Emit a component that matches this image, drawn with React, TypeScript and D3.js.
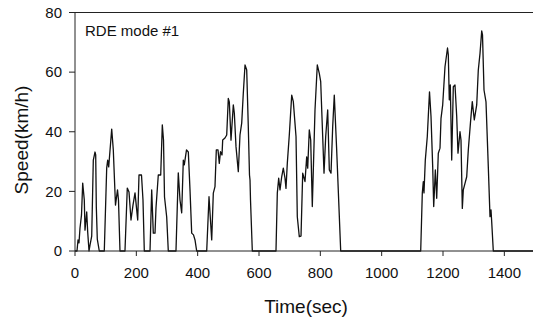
import React from "react";
import * as d3 from "d3";

// [time (s), speed (km/h)], grouped by driving trip
const trip1: [number, number][] = [
  [0, 0], [6.5, 0], [9.8, 3.7], [13, 2.7], [16.3, 7.7], [21.2, 12.1], [25.1, 22.8], [30.3, 17.1],
  [32.6, 7], [38.2, 13.1], [41.4, 6.4], [45.7, 0], [48.9, 2], [54.5, 5], [59.7, 30.5], [65.2, 33.2],
  [67.5, 32.2], [69.5, 14.8], [72.7, 4], [79.2, 0], [95.5, 0], [103.4, 27.9], [106.6, 30.5],
  [109.9, 28.2], [119.7, 40.9], [124.9, 33.9], [132, 15.4], [138.6, 20.5], [141.8, 17.1], [146.7, 0],
  [163, 0], [170.5, 21.1], [176.1, 19.8], [182.6, 10.4], [189.1, 15.4], [195.7, 19.5], [201.2, 13.8],
  [204.5, 10.4], [208.7, 25.5], [216.8, 25.5], [221.7, 17.1], [226, 0], [244.6, 0], [250.1, 20.5],
  [255.3, 6], [260.9, 6], [264.1, 14.4], [271.6, 25.5], [279.5, 25.5], [284.7, 42.3], [288.6, 37.2],
  [291.9, 18.1], [299, 11.4], [304.2, 0], [329.3, 0], [336.8, 26.2], [342.4, 17.1], [347.9, 12.8],
  [353.2, 30.5], [356.4, 28.9], [363.6, 33.9], [369.5, 33.2], [375, 20.5], [380.5, 6], [386.4, 5.4],
  [391.3, 3.7], [396.8, 0],
];
const trip2: [number, number][] = [
  [429.5, 0], [437, 18.2], [445.8, 3.7], [451, 19.4], [456.5, 21.6], [460.8, 33.9], [466.3, 33.9],
  [470.5, 29.4], [474.5, 33.3], [479.4, 32.2], [481.6, 37.2], [489.1, 37.9], [494.7, 38.9],
  [499.9, 51.2], [503.2, 50], [508.7, 37.2], [516.2, 49], [519.5, 46.3], [525, 35], [532.5, 26.6],
  [538, 38.9], [543.6, 42.9], [548.8, 52.9], [554.4, 62.4], [559.9, 60.7], [565.1, 41.7], [569, 25.5],
  [570.7, 23.8], [572.3, 17.1], [578.2, 0],
];
const trip3: [number, number][] = [
  [655.4, 0], [659.7, 19.4], [664.2, 24.4], [668.5, 20.5], [674, 24.9], [679.3, 27.8], [684.8, 24.4],
  [688, 21], [692.3, 29.4], [698.8, 38.9], [706.7, 52.3], [711.9, 50.1], [720.7, 38.4], [724.9, 11.5],
  [731.4, 4.8], [737, 5], [742.5, 26.1], [750, 23.3], [755.5, 31.6], [758.8, 27.8], [764, 40.6],
  [768.6, 37.2], [773.8, 14.9], [782.6, 47.3], [790.1, 62.4], [796.6, 59.6], [801.2, 56.8],
  [807.7, 38.4], [812, 26.1], [817.5, 38.4], [824, 47.3], [829.3, 27.2], [834.8, 26.1], [840.3, 41.7],
  [845.5, 52.3], [853.3, 33.9], [866.4, 0],
];
const trip4: [number, number][] = [
  [1127.3, 0], [1132.5, 19.4], [1135.8, 23.3], [1138, 19.5], [1142.3, 30.5], [1148.8, 38.4],
  [1156, 53.4], [1160.9, 45.1], [1166.4, 28.3], [1169.7, 14.9], [1175, 27.2], [1179.5, 17.7],
  [1184.7, 32.8], [1190.2, 34.5], [1193.5, 44.5], [1199, 49], [1206.5, 61.8], [1214.7, 68.1],
  [1217.3, 65.8], [1220.5, 50.7], [1223.8, 55.7], [1228.4, 30.5], [1233.6, 55.1], [1239.1, 55.7],
  [1244.7, 45.1], [1248.9, 32.8], [1255.4, 40], [1258.7, 37.2], [1263, 14.3], [1266.2, 20.5],
  [1271.7, 22.7], [1277.3, 24.9], [1282.5, 33.9], [1290.3, 44], [1295.5, 50.1], [1302.1, 44],
  [1309.9, 49], [1315.1, 60.7], [1320.7, 66.3], [1326.2, 73.8], [1328.8, 72.5], [1333.7, 54],
  [1340.2, 50], [1347.7, 28.3], [1353.3, 11.5], [1356.5, 13.8], [1358.8, 9.8], [1364, 0], [1500, 0],
];

const xTicks = [0, 200, 400, 600, 800, 1000, 1200, 1400];
const yTicks = [0, 20, 40, 60, 80];
const xLabel = "Time(sec)";
const yLabel = "Speed(km/h)";
const panelLabel = "RDE mode #1";

const W = 533;
const H = 320;
const FONT = "'Liberation Sans', Arial, sans-serif";

export default function App() {
  const x = d3.scaleLinear().domain([0, 1500]).range([75, 535]);
  const y = d3.scaleLinear().domain([0, 80]).range([251, 12.5]);
  const data = [...trip1, ...trip2, ...trip3, ...trip4];
  const line = d3
    .line<[number, number]>()
    .x((d) => x(d[0]))
    .y((d) => y(d[1]));

  const x0 = x(0);
  const yb = y(0);
  const yt = y(80);

  return (
    <svg
      width={W}
      height={H}
      style={{ position: "absolute", left: 0, top: 0, background: "#fff" }}
      fontFamily={FONT}
    >
      <rect x={0} y={0} width={W} height={H} fill="#fff" />
      <path d={line(data) ?? ""} fill="none" stroke="#111" strokeWidth={1.3} strokeLinejoin="round" />
      {/* axes frame */}
      <line x1={x0} x2={W} y1={yb} y2={yb} stroke="#222" strokeWidth={1} />
      <line x1={x0} x2={W} y1={yt} y2={yt} stroke="#222" strokeWidth={1} />
      <line x1={x0} x2={x0} y1={yt} y2={yb} stroke="#222" strokeWidth={1} />
      {yTicks.map((t) => (
        <g key={"y" + t}>
          <line x1={x0 - 6} x2={x0} y1={y(t)} y2={y(t)} stroke="#222" strokeWidth={1} />
          <text x={62} y={y(t) + 5.3} fontSize={15} textAnchor="end" fill="#111">
            {t}
          </text>
        </g>
      ))}
      {xTicks.map((t) => (
        <g key={"x" + t}>
          <line x1={x(t)} x2={x(t)} y1={yb} y2={yb + 5} stroke="#222" strokeWidth={1} />
          <text x={x(t)} y={278} fontSize={15} textAnchor="middle" fill="#111">
            {t}
          </text>
        </g>
      ))}
      <text x={306} y={313} fontSize={19} textAnchor="middle" fill="#111">
        {xLabel}
      </text>
      <text
        transform={`translate(28, 140) rotate(-90)`}
        fontSize={19}
        textAnchor="middle"
        fill="#111"
      >
        {yLabel}
      </text>
      <text x={85} y={36} fontSize={15} fill="#111">
        {panelLabel}
      </text>
    </svg>
  );
}
